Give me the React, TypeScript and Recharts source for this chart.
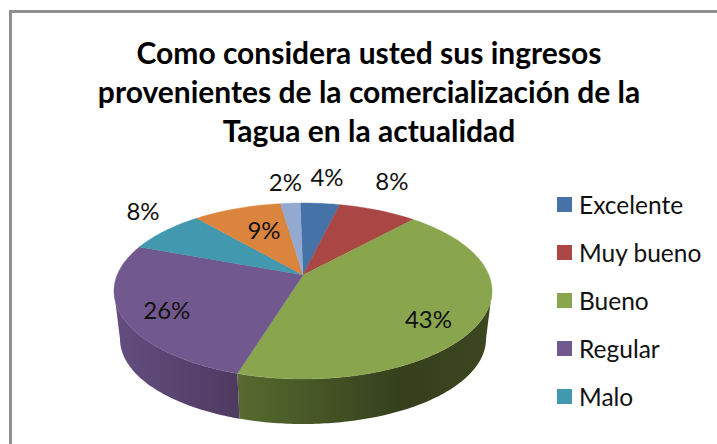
import { PieChart, Pie, Legend } from "recharts";

// the last two slices have no visible legend entry in the picture
const categories = ["Excelente", "Muy bueno", "Bueno", "Regular", "Malo", "", " "];
const shares = [4, 8, 43, 26, 8, 9, 2];
const colors = ["#4572a7", "#aa4643", "#89a54e", "#71588f", "#4198af", "#db843d", "#93a9cf"];
const titleLines = [
  "Como considera usted sus ingresos",
  "provenientes de la comercialización de la",
  "Tagua en la actualidad",
];
const legendCount = 5;

// label nudges from the rim point of each slice
const labelOffsets = [
  [7, -27],
  [14, -30],
  [-52, -3],
  [45, -6],
  [-22, -20],
  [27, 21],
  [-5, -22],
];

const data = categories.map((name, i) => ({ name, value: shares[i], fill: colors[i] }));

// fake 3D: the apex sits above the ellipse centre, like Excel's perspective pie
const RY = 88;
const SHIFT = 16;
const TILT = 0.18;
const BOTTOM_RX_DIFF = 6;
const BOTTOM_RY = 85;
const DEPTH = 48;
const FONT = "Lato, 'Open Sans', sans-serif";

const rad = (d: number) => (d * Math.PI) / 180;

// clockwise-from-top pie angle -> angle on the tilted ellipse
const toPhi = (theta: number) => {
  const c = Math.cos(rad(theta));
  const phi = (Math.acos((c + TILT) / (1 + TILT * c)) * 180) / Math.PI;
  const t = ((theta % 360) + 360) % 360;
  const turns = Math.floor(theta / 360);
  return (t <= 180 ? phi : 360 - phi) + turns * 360;
};

const rimPoint = (cx: number, cy: number, r: number, phi: number) => [
  cx + r * Math.sin(rad(phi)),
  cy + SHIFT - RY * Math.cos(rad(phi)),
];

const sidePoint = (cx: number, cy: number, r: number, phi: number) => [
  cx + (r - BOTTOM_RX_DIFF) * Math.sin(rad(phi)),
  cy + SHIFT + DEPTH - BOTTOM_RY * Math.cos(rad(phi)),
];

const sweep = (from: number, to: number) => {
  const out: number[] = [];
  for (let p = from; p < to; p += 1) out.push(p);
  out.push(to);
  return out;
};

const toPath = (pts: number[][]) =>
  pts.map((p, i) => `${i ? "L" : "M"}${p[0].toFixed(2)} ${p[1].toFixed(2)}`).join(" ") + " Z";

const wallFill: Record<string, string> = { Bueno: "url(#wallGreen)", Regular: "url(#wallPurple)" };

const Slice = (props: any) => {
  const { cx, cy, outerRadius, startAngle, endAngle, fill } = props;
  const name = props.name ?? props.payload?.name;
  const from = toPhi(90 - startAngle);
  const to = toPhi(90 - endAngle);
  const top = sweep(from, to).map((p) => rimPoint(cx, cy, outerRadius, p));

  const wallFrom = Math.max(from, 90);
  const wallTo = Math.min(to, 270);
  let wall = null;
  if (wallTo > wallFrom) {
    const angles = sweep(wallFrom, wallTo);
    const upper = angles.map((p) => rimPoint(cx, cy, outerRadius, p));
    const lower = angles.map((p) => sidePoint(cx, cy, outerRadius, p)).reverse();
    wall = <path d={toPath([...upper, ...lower])} fill={wallFill[name] ?? fill} />;
  }
  return (
    <g>
      {wall}
      <path d={toPath([[cx, cy], ...top])} fill={fill} stroke={fill} strokeWidth={0.4} />
    </g>
  );
};

const renderLabel = (props: any) => {
  const { cx, cy, outerRadius, midAngle, value, index } = props;
  const [x, y] = rimPoint(cx, cy, outerRadius, toPhi(90 - midAngle));
  const [dx, dy] = labelOffsets[index];
  return (
    <text
      x={x + dx}
      y={y + dy}
      fill="#111"
      fontSize={24}
      fontFamily={FONT}
      textAnchor="middle"
      dominantBaseline="central"
    >
      {`${value}%`}
    </text>
  );
};

const renderLegend = (props: any) => (
  <div style={{ fontFamily: FONT, fontSize: 24.5, color: "#111" }}>
    {props.payload.slice(0, legendCount).map((item: any, i: number) => (
      <div key={item.value} style={{ display: "flex", alignItems: "center", height: 48 }}>
        <span style={{ width: 15, height: 15, background: colors[i], marginRight: 7 }} />
        <span>{item.value}</span>
      </div>
    ))}
  </div>
);

export default function App() {
  return (
    <div
      style={{
        position: "absolute",
        left: 0,
        top: 0,
        width: 717,
        height: 444,
        overflow: "hidden",
        background: "#fff",
      }}
    >
      <div
        style={{
          position: "absolute",
          left: 9,
          top: 10,
          width: 720,
          height: 450,
          borderLeft: "3px solid #8f8f8f",
          borderTop: "3px solid #8f8f8f",
        }}
      />
      <div
        style={{
          position: "absolute",
          left: 0,
          top: 33,
          width: 738,
          textAlign: "center",
          fontFamily: FONT,
          fontWeight: 700,
          fontSize: 30,
          lineHeight: "39px",
          color: "#000",
        }}
      >
        {titleLines.map((t) => (
          <div key={t}>{t}</div>
        ))}
      </div>
      <PieChart width={717} height={444} margin={{ top: 0, right: 0, bottom: 0, left: 0 }} style={{ position: "absolute" }}>
        <defs>
          <linearGradient id="wallGreen" gradientUnits="userSpaceOnUse" x1={238} y1={0} x2={490} y2={0}>
            <stop offset="0" stopColor="#566b2f" />
            <stop offset="0.65" stopColor="#353f1c" />
            <stop offset="1" stopColor="#3c4620" />
          </linearGradient>
          <linearGradient id="wallPurple" gradientUnits="userSpaceOnUse" x1={114} y1={0} x2={240} y2={0}>
            <stop offset="0" stopColor="#644e80" />
            <stop offset="1" stopColor="#4e3a60" />
          </linearGradient>
        </defs>
        <Pie
          data={data}
          dataKey="value"
          nameKey="name"
          cx={303}
          cy={275}
          outerRadius={189}
          startAngle={91}
          endAngle={-269}
          stroke="none"
          shape={Slice}
          label={renderLabel}
          labelLine={false}
          isAnimationActive={false}
        />
        <Legend
          content={renderLegend}
          layout="vertical"
          itemSorter={null}
          wrapperStyle={{ position: "absolute", left: 557, top: 180, width: 160 }}
        />
      </PieChart>
    </div>
  );
}
